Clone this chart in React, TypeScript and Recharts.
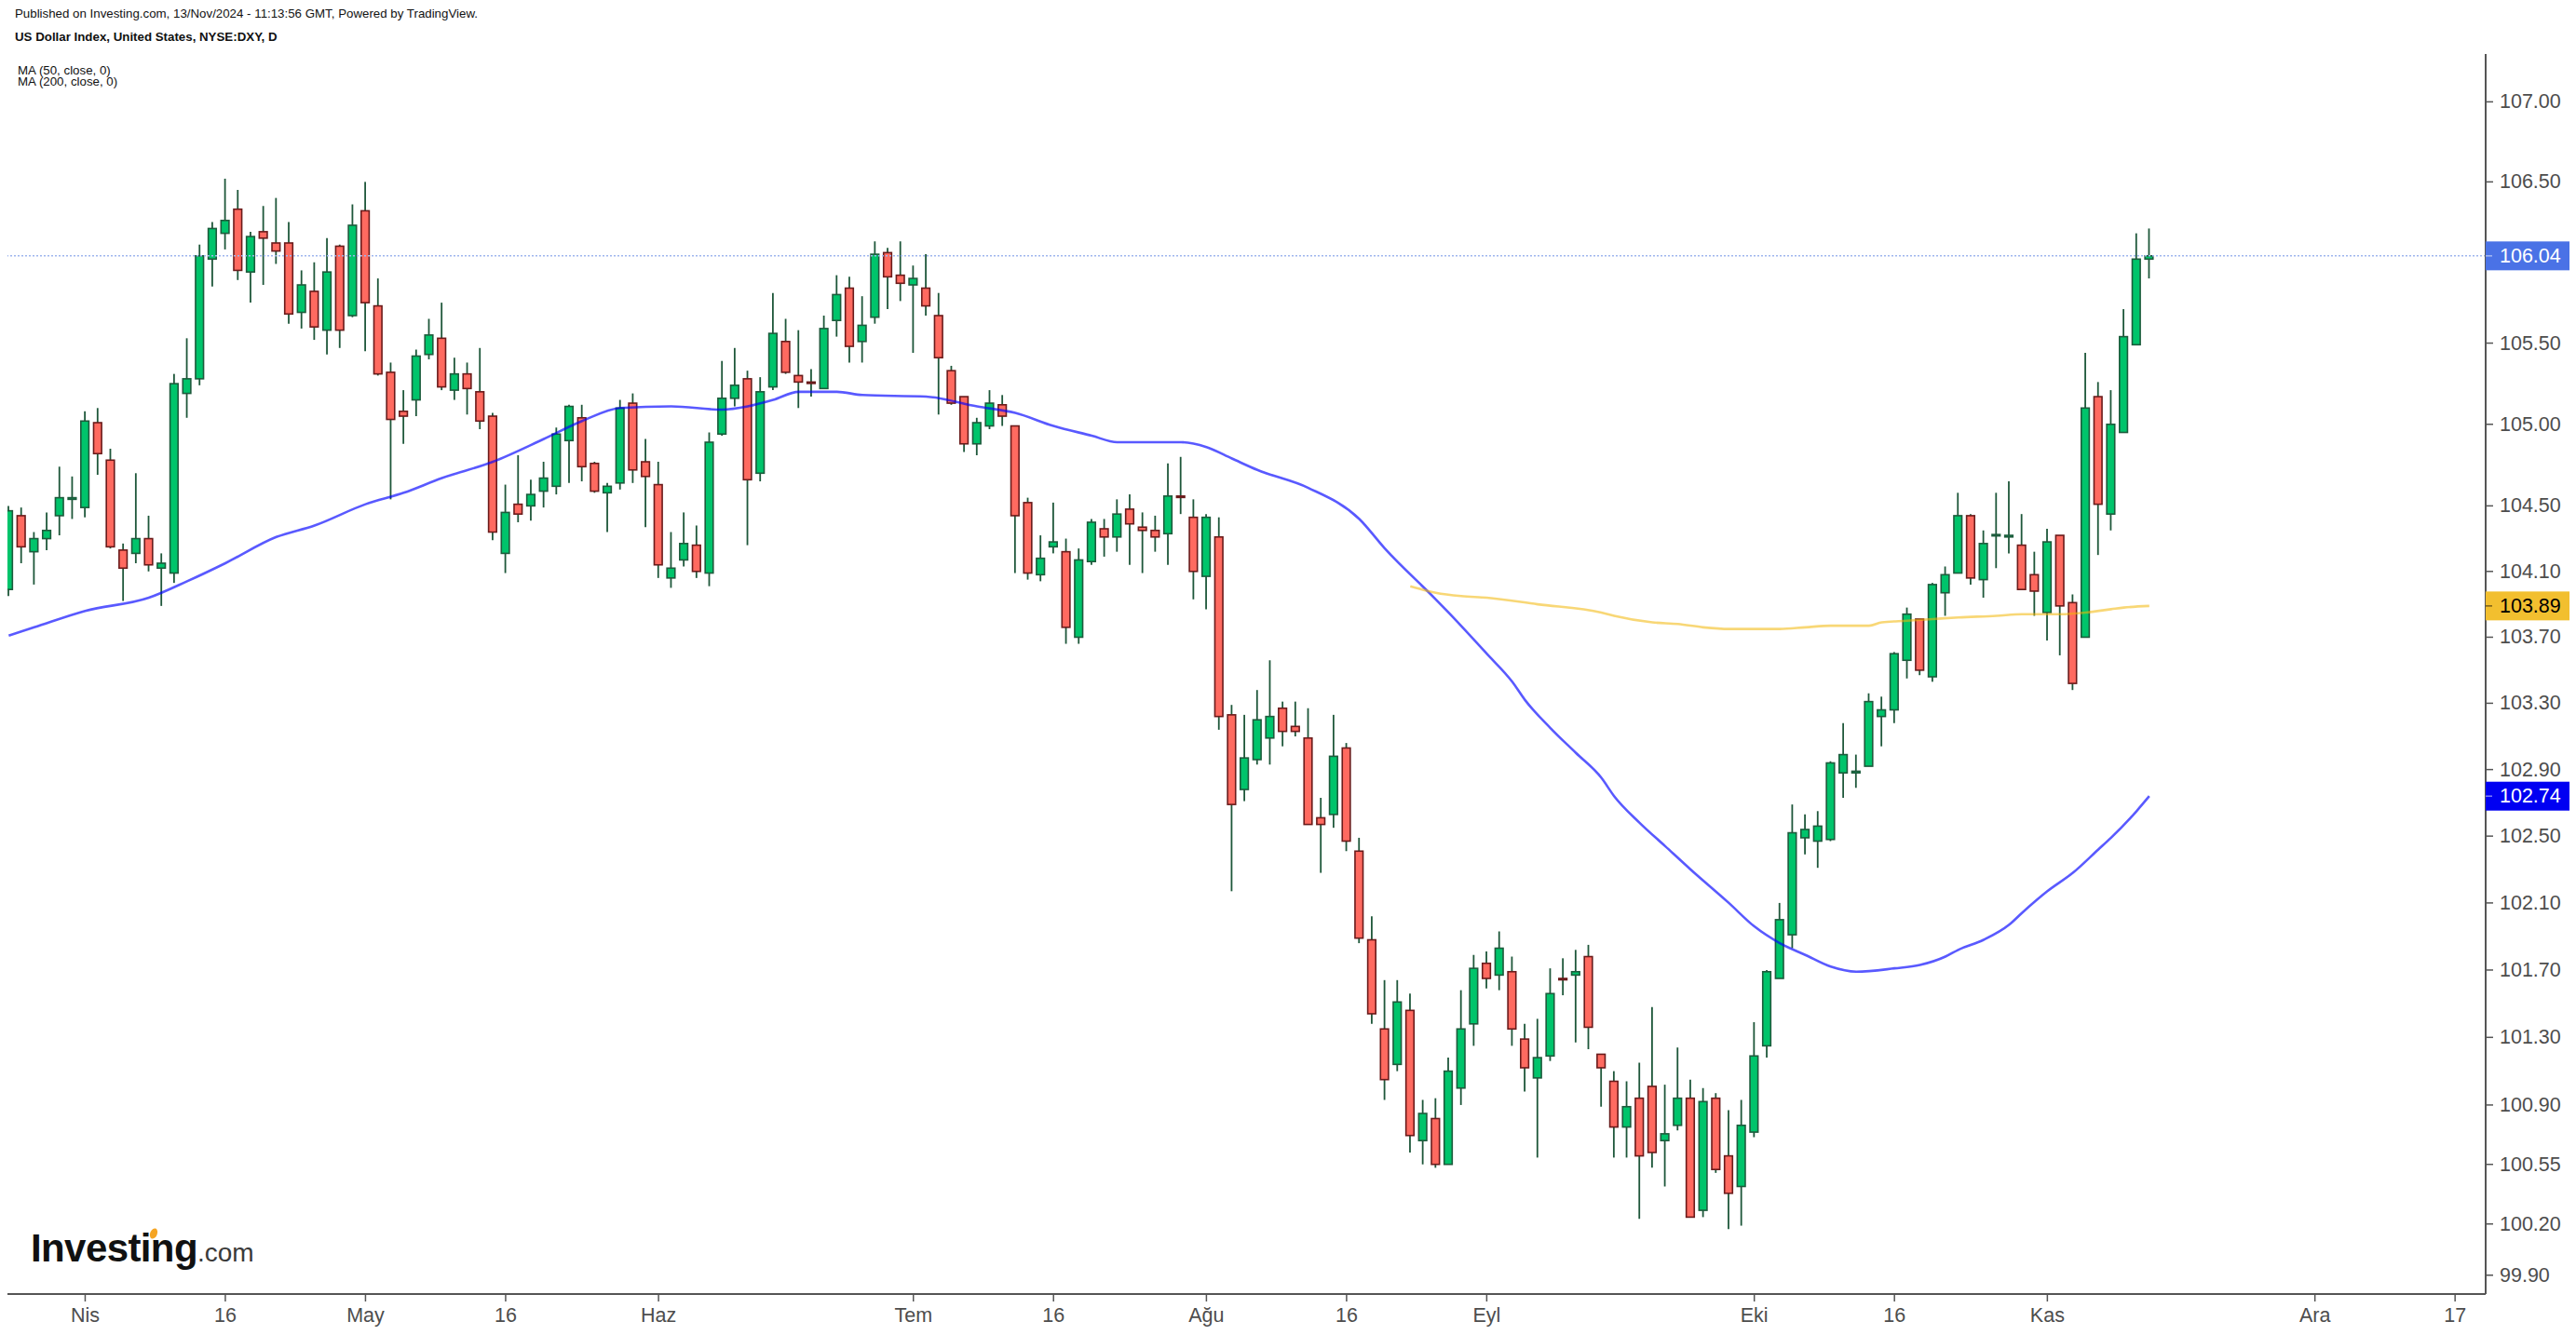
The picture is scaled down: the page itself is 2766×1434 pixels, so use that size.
import React from 'react';
import { ComposedChart, Bar, Line, XAxis, YAxis, ReferenceLine } from 'recharts';

// daily OHLC, bar index 0 = first visible session
const opens = [
  103.99, 104.44, 104.22, 104.30, 104.44, 104.54, 104.49, 105.01, 104.78, 104.23,
  104.21, 104.30, 104.12, 104.09, 105.19, 105.28, 106.02, 106.18, 106.33, 105.94,
  106.19, 106.12, 106.12, 105.69, 105.82, 105.58, 106.10, 105.67, 106.32, 105.73,
  105.32, 105.08, 105.15, 105.43, 105.53, 105.21, 105.31, 105.20, 105.05, 104.21,
  104.51, 104.50, 104.59, 104.62, 104.90, 105.04, 104.76, 104.58, 104.64, 105.13,
  104.77, 104.63, 104.06, 104.17, 104.26, 104.09, 104.94, 105.16, 105.28, 104.70,
  105.23, 105.51, 105.30, 105.26, 105.22, 105.64, 105.84, 105.51, 105.66, 106.06,
  105.92, 105.86, 105.84, 105.67, 105.33, 105.17, 104.88, 104.99, 105.12, 104.99,
  104.52, 104.08, 104.25, 104.22, 103.70, 104.16, 104.36, 104.31, 104.48, 104.37,
  104.35, 104.33, 104.56, 104.43, 104.07, 104.31, 103.23, 102.78, 102.96, 103.09,
  103.27, 103.16, 103.09, 102.61, 102.63, 103.03, 102.41, 101.88, 101.35, 101.14,
  101.46, 100.69, 100.82, 100.55, 101.00, 101.38, 101.74, 101.67, 101.69, 101.29,
  101.06, 101.19, 101.65, 101.67, 101.78, 101.20, 101.04, 100.77, 100.94, 101.01,
  100.69, 100.78, 100.94, 100.28, 100.94, 100.60, 100.42, 100.74, 101.25, 101.65,
  101.91, 102.49, 102.47, 102.48, 102.88, 102.88, 102.92, 103.22, 103.26, 103.56,
  103.81, 103.46, 103.97, 104.09, 104.44, 104.05, 104.32, 104.31, 104.26, 104.08,
  103.85, 104.32, 103.91, 103.70, 105.17, 104.45, 104.95, 105.49, 106.02,
];
const highs = [
  104.50, 104.49, 104.34, 104.46, 104.74, 104.68, 105.08, 105.10, 104.85, 104.27,
  104.70, 104.44, 104.21, 105.31, 105.53, 106.11, 106.25, 106.52, 106.45, 106.19,
  106.35, 106.40, 106.25, 105.95, 106.00, 106.15, 106.11, 106.36, 106.50, 105.90,
  105.38, 105.21, 105.46, 105.65, 105.75, 105.41, 105.38, 105.47, 105.07, 104.63,
  104.81, 104.66, 104.77, 104.98, 105.12, 105.12, 104.77, 104.64, 105.15, 105.19,
  104.91, 104.77, 104.34, 104.46, 104.38, 104.95, 105.39, 105.47, 105.33, 105.29,
  105.81, 105.65, 105.58, 105.34, 105.67, 105.92, 105.91, 105.79, 106.13, 106.09,
  106.13, 105.98, 106.05, 105.81, 105.36, 105.17, 105.04, 105.21, 105.18, 104.99,
  104.55, 104.32, 104.52, 104.30, 104.24, 104.42, 104.42, 104.54, 104.57, 104.46,
  104.44, 104.76, 104.80, 104.54, 104.45, 104.43, 103.29, 103.23, 103.38, 103.56,
  103.31, 103.31, 103.27, 102.73, 103.23, 103.06, 102.49, 102.02, 101.64, 101.64,
  101.56, 100.93, 100.94, 101.18, 101.58, 101.79, 101.81, 101.93, 101.78, 101.38,
  101.41, 101.71, 101.77, 101.82, 101.85, 101.20, 101.10, 101.04, 101.15, 101.48,
  101.02, 101.24, 101.05, 101.00, 100.97, 100.87, 100.93, 101.39, 101.70, 102.10,
  102.69, 102.63, 102.65, 102.95, 103.18, 102.99, 103.36, 103.34, 103.61, 103.88,
  103.81, 104.03, 104.13, 104.58, 104.45, 104.35, 104.58, 104.65, 104.45, 104.22,
  104.36, 104.32, 103.96, 105.44, 105.26, 105.21, 105.71, 106.18, 106.21,
];
const lows = [
  103.95, 104.15, 104.02, 104.23, 104.32, 104.42, 104.43, 104.69, 104.24, 103.92,
  104.15, 104.10, 103.89, 104.03, 105.04, 105.24, 105.85, 106.08, 105.89, 105.75,
  105.86, 105.99, 105.62, 105.59, 105.52, 105.43, 105.47, 105.66, 105.45, 105.30,
  104.54, 104.88, 105.05, 105.40, 105.21, 105.15, 105.06, 104.97, 104.29, 104.09,
  104.40, 104.41, 104.49, 104.57, 104.64, 104.65, 104.58, 104.34, 104.60, 104.64,
  104.37, 104.06, 104.00, 104.13, 104.06, 104.01, 104.93, 105.11, 104.26, 104.65,
  105.21, 105.31, 105.10, 105.17, 105.22, 105.54, 105.38, 105.38, 105.62, 105.71,
  105.76, 105.44, 105.67, 105.06, 105.12, 104.83, 104.81, 104.97, 104.99, 104.09,
  104.05, 104.04, 104.21, 103.66, 103.66, 104.14, 104.19, 104.22, 104.14, 104.09,
  104.22, 104.14, 104.45, 103.93, 103.87, 103.14, 102.17, 102.71, 102.93, 102.93,
  103.04, 103.10, 102.57, 102.28, 102.55, 102.41, 101.86, 101.38, 100.93, 101.10,
  100.62, 100.55, 100.53, 100.55, 100.90, 101.25, 101.59, 101.58, 101.25, 100.98,
  100.59, 101.16, 101.55, 101.27, 101.23, 100.89, 100.59, 100.59, 100.23, 100.53,
  100.42, 100.75, 100.24, 100.24, 100.50, 100.17, 100.19, 100.71, 101.18, 101.65,
  101.83, 102.39, 102.31, 102.47, 102.73, 102.79, 102.92, 103.04, 103.18, 103.45,
  103.47, 103.43, 103.83, 104.09, 104.02, 103.94, 104.12, 104.21, 103.99, 103.83,
  103.68, 103.59, 103.38, 103.70, 104.20, 104.35, 104.95, 105.49, 105.90,
];
const closes = [
  104.47, 104.25, 104.30, 104.35, 104.55, 104.55, 105.02, 104.82, 104.25, 104.12,
  104.30, 104.14, 104.15, 105.25, 105.28, 106.04, 106.21, 106.26, 105.95, 106.16,
  106.15, 106.07, 105.68, 105.86, 105.60, 105.94, 105.58, 106.23, 105.75, 105.31,
  105.03, 105.05, 105.42, 105.55, 105.23, 105.31, 105.22, 105.02, 104.34, 104.46,
  104.45, 104.57, 104.67, 104.94, 105.11, 104.74, 104.59, 104.62, 105.10, 104.72,
  104.68, 104.14, 104.12, 104.27, 104.10, 104.89, 105.16, 105.24, 104.66, 105.20,
  105.56, 105.32, 105.26, 105.255, 105.59, 105.80, 105.48, 105.61, 106.05, 105.91,
  105.87, 105.90, 105.73, 105.41, 105.13, 104.88, 105.01, 105.13, 105.05, 104.44,
  104.09, 104.18, 104.28, 103.76, 104.17, 104.40, 104.31, 104.45, 104.39, 104.35,
  104.31, 104.56, 104.555, 104.10, 104.43, 103.22, 102.69, 102.97, 103.20, 103.22,
  103.13, 103.13, 102.57, 102.57, 102.98, 102.47, 101.89, 101.44, 101.05, 101.51,
  100.72, 100.85, 100.55, 101.10, 101.35, 101.71, 101.65, 101.83, 101.35, 101.12,
  101.18, 101.56, 101.645, 101.69, 101.36, 101.12, 100.77, 100.89, 100.60, 100.62,
  100.73, 100.94, 100.24, 100.92, 100.52, 100.38, 100.78, 101.19, 101.69, 102.00,
  102.52, 102.54, 102.56, 102.94, 102.99, 102.89, 103.31, 103.26, 103.60, 103.84,
  103.50, 104.02, 104.08, 104.44, 104.06, 104.27, 104.325, 104.32, 103.99, 103.98,
  104.28, 103.89, 103.42, 105.10, 104.51, 105.00, 105.54, 106.02, 106.04,
];

// moving averages (bar index -> value)
const ma50Idx = [
  0, 2, 6, 11, 14, 17, 21, 24, 28, 31, 34, 38, 42, 45, 48, 52, 56, 58, 60, 62,
  65, 67, 72, 76, 79, 82, 85, 87, 92, 94, 96, 98, 102, 106, 108, 112, 113, 116, 118, 119,
  121, 123, 125, 126, 128, 130, 132, 135, 137, 139, 141, 143, 145, 148, 150, 152, 153, 155, 157, 158,
  160, 162, 164, 165, 167, 168,
];
const ma50Val = [
  103.71, 103.76, 103.86, 103.94, 104.04, 104.15, 104.31, 104.38, 104.51, 104.58,
  104.67, 104.77, 104.91, 105.02, 105.10, 105.11, 105.09, 105.11, 105.15, 105.20,
  105.20, 105.18, 105.17, 105.11, 105.07, 104.99, 104.93, 104.89, 104.89, 104.86,
  104.79, 104.72, 104.61, 104.42, 104.24, 103.93, 103.85, 103.60, 103.43, 103.32,
  103.15, 103.00, 102.85, 102.74, 102.58, 102.44, 102.30, 102.10, 101.96, 101.86,
  101.79, 101.72, 101.69, 101.71, 101.73, 101.78, 101.82, 101.88, 101.97, 102.04,
  102.17, 102.28, 102.42, 102.49, 102.65, 102.74,
];
const ma200Idx = [
  110, 112, 114, 116, 120, 125, 126, 129, 131, 133, 135, 139, 141, 143, 146, 147,
  149, 151, 153, 156, 158, 161, 163, 165, 166, 168,
];
const ma200Val = [
  104.01, 103.97, 103.95, 103.94, 103.90, 103.85, 103.83, 103.79, 103.78, 103.76,
  103.75, 103.75, 103.76, 103.77, 103.77, 103.79, 103.80, 103.81, 103.82, 103.83,
  103.84, 103.84, 103.85, 103.87, 103.88, 103.89,
];

const xTickIdx = [6, 17, 28, 39, 51, 71, 82, 94, 105, 116, 137, 148, 160, 181, 192];
const xTickText = ['Nis', '16', 'May', '16', 'Haz', 'Tem', '16', 'Ağu', '16', 'Eyl', 'Eki', '16', 'Kas', 'Ara', '17'];

const yTicks = [107, 106.5, 105.5, 105, 104.5, 104.1, 103.7, 103.3, 102.9, 102.5, 102.1, 101.7, 101.3, 100.9, 100.55, 100.2, 99.9];
const badgeVals = [106.04, 103.89, 102.74];
const badgeFill = ['#4a72e6', '#f2bf2f', '#0000f2'];
const badgeInk = ['#ffffff', '#000000', '#ffffff'];

const lastClose = 106.04;

const W = 2766;
const H = 1434;
const PLOT_RIGHT = 2669;
const PLOT_BOTTOM = 1390;
const AXIS = '#555555';
const FONT = '"Liberation Sans", Arial, sans-serif';

const ma50Map = new Map(ma50Idx.map((k, j) => [k, ma50Val[j]]));
const ma200Map = new Map(ma200Idx.map((k, j) => [k, ma200Val[j]]));

const rows = opens.map((o, i) => ({
  i,
  open: o,
  high: highs[i],
  low: lows[i],
  close: closes[i],
  range: [lows[i], highs[i]],
  ma50: ma50Map.has(i) ? ma50Map.get(i) : null,
  ma200: ma200Map.has(i) ? ma200Map.get(i) : null,
}));

const Candle = (props: any) => {
  const { x, y, width, height, payload } = props;
  if (x == null || y == null || !payload) return null;
  const { open, close, high, low } = payload;
  const top = Math.min(y, y + height);
  const h = Math.abs(height);
  const lh = Math.log(high);
  const span = lh - Math.log(low) || 1;
  // log price axis: place open/close inside the high-low span
  const py = (p: number) => top + (h * (lh - Math.log(p))) / span;
  const cx = x + width / 2;
  const up = close >= open;
  const y1 = py(Math.max(open, close));
  const y2 = py(Math.min(open, close));
  const bh = Math.max(y2 - y1, 1.5);
  return (
    <g>
      <line x1={cx} x2={cx} y1={top} y2={top + h} stroke="#1e573a" strokeWidth={1.8} />
      <rect
        x={cx - 4.3}
        y={y1}
        width={8.6}
        height={bh}
        fill={up ? '#00c46b' : '#ff6a60'}
        stroke={up ? '#1d5b3c' : '#6a1b1b'}
        strokeWidth={1.6}
      />
    </g>
  );
};

const XTick = (props: any) => {
  const { x, payload } = props;
  const k = xTickIdx.indexOf(payload.value);
  return (
    <g>
      <line x1={x} x2={x} y1={PLOT_BOTTOM} y2={PLOT_BOTTOM + 8} stroke={AXIS} strokeWidth={1.5} />
      <text x={x} y={PLOT_BOTTOM + 23} textAnchor="middle" dominantBaseline="central" fontFamily={FONT} fontSize={21.5} fill="#4d4d4d">
        {k >= 0 ? xTickText[k] : ''}
      </text>
    </g>
  );
};

const YTick = (props: any) => {
  const { y, payload } = props;
  const b = badgeVals.indexOf(payload.value);
  const label = Number(payload.value).toFixed(2);
  if (b >= 0) {
    return (
      <g>
        <rect x={PLOT_RIGHT} y={y - 15.5} width={90} height={31} fill={badgeFill[b]} />
        <line x1={PLOT_RIGHT} x2={PLOT_RIGHT + 7} y1={y} y2={y} stroke={badgeInk[b]} strokeOpacity={0.5} strokeWidth={1.5} />
        <text x={PLOT_RIGHT + 15} y={y} dominantBaseline="central" fontFamily={FONT} fontSize={21.5} fill={badgeInk[b]}>
          {label}
        </text>
      </g>
    );
  }
  return (
    <g>
      <line x1={PLOT_RIGHT} x2={PLOT_RIGHT + 8} y1={y} y2={y} stroke={AXIS} strokeWidth={1.5} />
      <text x={PLOT_RIGHT + 15} y={y} dominantBaseline="central" fontFamily={FONT} fontSize={21.5} fill="#4d4d4d">
        {label}
      </text>
    </g>
  );
};

const headStyle: React.CSSProperties = {
  position: 'absolute',
  left: 16,
  fontFamily: FONT,
  fontSize: 13.3,
  lineHeight: '14px',
  color: '#111',
  whiteSpace: 'nowrap',
};

export default function App() {
  return (
    <div style={{ position: 'absolute', left: 0, top: 0, width: W, height: H, background: '#fff', overflow: 'hidden' }}>
      <ComposedChart width={W} height={H} data={rows} margin={{ top: 58, right: 0, bottom: 0, left: 8 }}>
        <XAxis
          dataKey="i"
          type="number"
          domain={[-0.1, 194.4]}
          allowDataOverflow
          ticks={xTickIdx}
          interval={0}
          height={44}
          tickLine={false}
          axisLine={{ stroke: AXIS, strokeWidth: 2 }}
          tick={<XTick />}
        />
        <YAxis
          orientation="right"
          type="number"
          scale="log"
          domain={[99.79, 107.3]}
          allowDataOverflow
          ticks={[...yTicks, ...badgeVals]}
          interval={0}
          width={97}
          tickLine={false}
          axisLine={{ stroke: AXIS, strokeWidth: 2 }}
          tick={<YTick />}
        />
        <Bar dataKey="range" barSize={9} shape={<Candle />} isAnimationActive={false} />
        <Line
          dataKey="ma50"
          type="monotone"
          connectNulls
          dot={false}
          stroke="#0000ff"
          strokeOpacity={0.65}
          strokeWidth={2.6}
          isAnimationActive={false}
        />
        <Line
          dataKey="ma200"
          type="monotone"
          connectNulls
          dot={false}
          stroke="#f2b705"
          strokeOpacity={0.55}
          strokeWidth={2.6}
          isAnimationActive={false}
        />
        <ReferenceLine y={lastClose} stroke="#9fb6ee" strokeDasharray="2 2" strokeWidth={1.5} />
      </ComposedChart>

      <div style={{ ...headStyle, top: 8 }}>
        Published on Investing.com, 13/Nov/2024 - 11:13:56 GMT, Powered by TradingView.
      </div>
      <div style={{ ...headStyle, top: 33, fontWeight: 700 }}>US Dollar Index, United States, NYSE:DXY, D</div>
      <div style={{ ...headStyle, left: 19, top: 70, lineHeight: '12px' }}>
        MA (50, close, 0)
        <br />
        MA (200, close, 0)
      </div>

      <svg width={340} height={70} style={{ position: 'absolute', left: 0, top: 1305 }}>
        <text x={33} y={50} fontFamily={FONT} fontWeight={700} fontSize={42} letterSpacing={-0.6} fill="#111">
          Investing
          <tspan fontWeight={400} fontSize={28} letterSpacing={0} fill="#3a3a3a">
            .com
          </tspan>
        </text>
        <ellipse cx={165} cy={20} rx={3.8} ry={5.8} transform="rotate(22 165 20)" fill="#f5a524" />
      </svg>
    </div>
  );
}
